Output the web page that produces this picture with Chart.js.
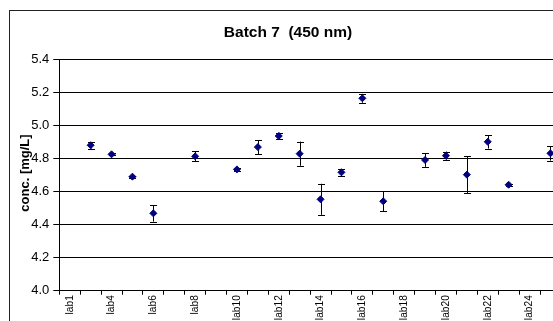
<!DOCTYPE html>
<html>
<head>
<meta charset="utf-8">
<script src="https://cdn.jsdelivr.net/npm/chart.js@4/dist/chart.umd.min.js"></script>
<style>
  html, body { margin: 0; padding: 0; background: #fff; overflow: hidden; }
  #wrap { width: 580px; height: 340px; }
</style>
</head>
<body>
<div id="wrap"><canvas id="chart" width="580" height="340"></canvas></div>
<script>
// lab categories along the x axis (every other one gets a label)
const labs = ['lab1', 'lab3', 'lab4', 'lab5', 'lab6', 'lab7', 'lab8', 'lab9', 'lab10', 'lab11', 'lab12', 'lab13',
  'lab14', 'lab15', 'lab16', 'lab17', 'lab18', 'lab19', 'lab20', 'lab21', 'lab22', 'lab23', 'lab24', 'lab25'];
// mean concentration per lab (mg/L), null = no result
const conc = [null, 4.88, 4.825, 4.69, 4.468, null, 4.813, null, 4.734, 4.869, 4.936, 4.829,
  4.553, 4.716, 5.164, 4.541, null, 4.791, 4.817, 4.702, 4.901, 4.641, null, 4.831];
// +/- error (standard deviation)
const errs = [null, 0.02, 0.006, 0.006, 0.05, null, 0.03, null, 0.008, 0.043, 0.02, 0.073,
  0.094, 0.022, 0.027, 0.06, null, 0.042, 0.025, 0.111, 0.041, 0.005, null, 0.044];
const yTicks = [4.0, 4.2, 4.4, 4.6, 4.8, 5.0, 5.2, 5.4];

const FONT = '"Liberation Sans", Arial, sans-serif';

// frame + titles drawn by hand, Excel style
const decorations = {
  id: 'decorations',
  beforeDraw(chart) {
    const ctx = chart.ctx;
    ctx.save();
    ctx.fillStyle = '#fff';
    ctx.fillRect(0, 0, chart.width, chart.height);
    ctx.strokeStyle = '#222';
    ctx.lineWidth = 1;
    ctx.strokeRect(9.5, 10.5, 700, 500);
    ctx.restore();
  },
  afterDraw(chart) {
    const ctx = chart.ctx;
    ctx.save();
    ctx.fillStyle = '#000';
    ctx.font = 'bold 15.5px ' + FONT;
    ctx.textAlign = 'center';
    ctx.textBaseline = 'alphabetic';
    ctx.fillText('Batch 7  (450 nm)', 288, 37);

    ctx.translate(25, 173);
    ctx.rotate(-Math.PI / 2);
    ctx.font = 'bold 13px ' + FONT;
    ctx.textBaseline = 'middle';
    ctx.fillText('conc. [mg/L]', 0, 0);
    ctx.restore();
  }
};

// error bars through the chart's own scales
const errorBars = {
  id: 'errorBars',
  beforeDatasetsDraw(chart) {
    const ctx = chart.ctx;
    const xs = chart.scales.x, ys = chart.scales.y;
    ctx.save();
    ctx.strokeStyle = '#000';
    ctx.lineWidth = 1;
    conc.forEach((v, i) => {
      if (v == null || errs[i] == null) return;
      const x = Math.round(xs.getPixelForValue(i)) + 0.5;
      const top = ys.getPixelForValue(v + errs[i]);
      const bot = ys.getPixelForValue(v - errs[i]);
      ctx.beginPath();
      ctx.moveTo(x, top); ctx.lineTo(x, bot);
      ctx.moveTo(x - 3.5, Math.round(top) + 0.5); ctx.lineTo(x + 3.5, Math.round(top) + 0.5);
      ctx.moveTo(x - 3.5, Math.round(bot) + 0.5); ctx.lineTo(x + 3.5, Math.round(bot) + 0.5);
      ctx.stroke();
    });
    ctx.restore();
  }
};

const chart = new Chart(document.getElementById('chart').getContext('2d'), {
  type: 'line',
  data: {
    labels: labs,
    datasets: [{
      data: conc,
      showLine: false,
      pointStyle: 'rectRot',
      pointRadius: 3.5,
      pointBorderWidth: 1,
      pointBackgroundColor: '#000080',
      pointBorderColor: '#000080'
    }]
  },
  options: {
    responsive: false,
    animation: false,
    devicePixelRatio: 1,
    layout: { padding: { top: 59.3, left: 0, right: 19.1, bottom: 0 } },
    plugins: { legend: { display: false }, tooltip: { enabled: false } },
    scales: {
      x: {
        type: 'category',
        offset: true,
        grid: { offset: true, drawOnChartArea: false, drawTicks: true, tickLength: 4, color: '#000' },
        border: { color: '#000' },
        ticks: {
          autoSkip: false,
          minRotation: 90,
          maxRotation: 90,
          padding: 0.5,
          color: '#000',
          font: { family: FONT, size: 10.2 },
          callback: (v, i) => (i % 2 === 0 ? labs[i] : '')
        },
        afterFit: (s) => { s.height = 340 - 290.7; }
      },
      y: {
        min: yTicks[0],
        max: yTicks[yTicks.length - 1],
        afterBuildTicks: (s) => { s.ticks = yTicks.map(v => ({ value: v })); },
        grid: { color: '#000', tickLength: 6 },
        border: { color: '#000' },
        ticks: {
          padding: 4,
          color: '#000',
          font: { family: FONT, size: 13 },
          callback: (v) => Number(v).toFixed(1)
        },
        afterFit: (s) => { s.width = 59.3; }
      }
    }
  },
  plugins: [decorations, errorBars]
});
</script>
</body>
</html>
